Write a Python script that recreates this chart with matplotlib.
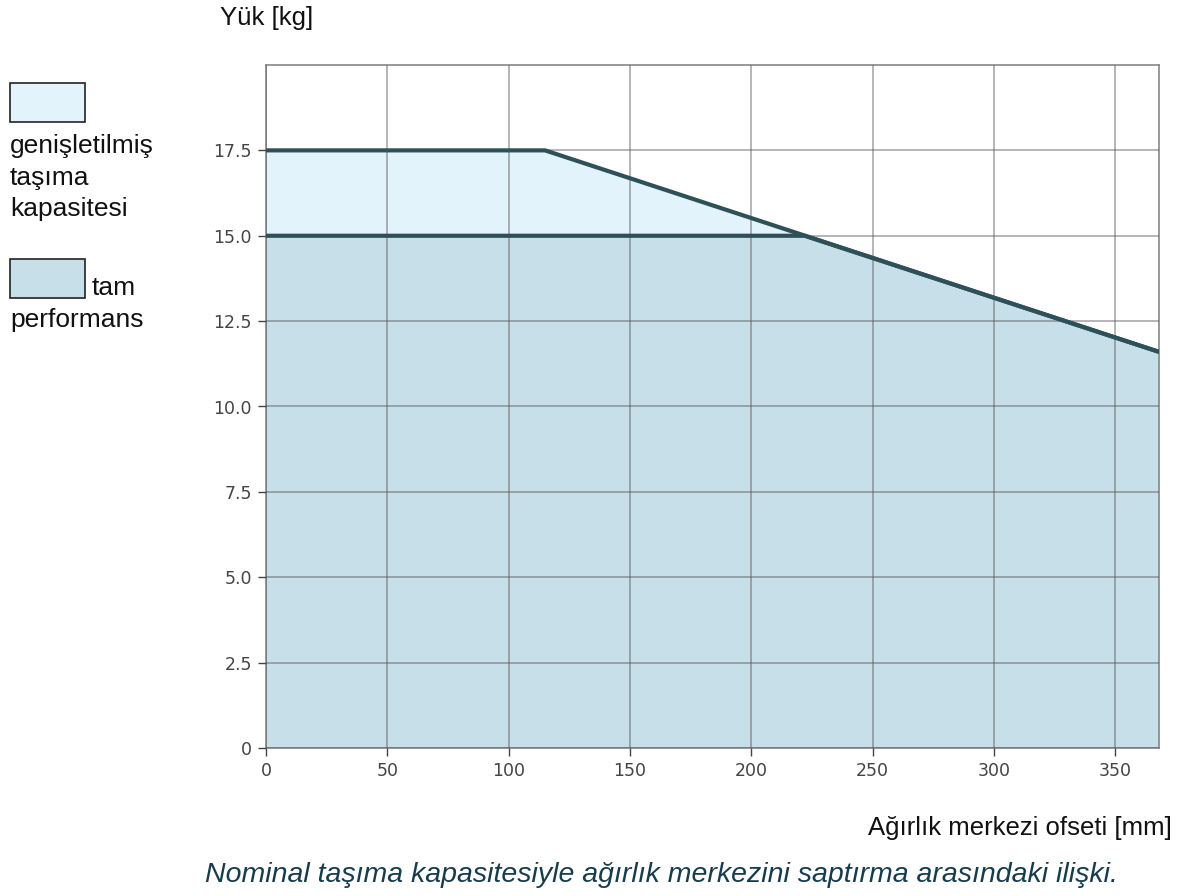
import matplotlib
matplotlib.use("Agg")
import matplotlib.pyplot as plt
from matplotlib.patches import Rectangle

# Data
ext_x = [0, 115, 368]
ext_y = [17.5, 17.5, 11.6]
full_x = [0, 222, 368]
full_y = [15.0, 15.0, 11.6]
x_ticks = [0, 50, 100, 150, 200, 250, 300, 350]
y_ticks = [0, 2.5, 5.0, 7.5, 10.0, 12.5, 15.0, 17.5]
y_tick_labels = ["0", "2.5", "5.0", "7.5", "10.0", "12.5", "15.0", "17.5"]

fill_ext = "#e3f3fb"
fill_full = "#c6dfe9"
line_col = "#2e5058"
txt_font = ["Liberation Sans", "DejaVu Sans"]

fig = plt.figure(figsize=(11.9, 8.96), dpi=100)
ax = fig.add_axes([266/1190, 1-748/896, (1159-266)/1190, (748-65)/896])

ax.fill_between(ext_x, 0, ext_y, color=fill_ext, lw=0, zorder=1)
ax.fill_between(full_x, 0, full_y, color=fill_full, lw=0, zorder=1.5)
ax.grid(True, color="#555555", alpha=0.55, lw=1.1, zorder=2)
ax.set_axisbelow(False)
ax.plot(ext_x, ext_y, color=line_col, lw=3, zorder=3, solid_capstyle="butt")
ax.plot(full_x, full_y, color=line_col, lw=3, zorder=3, solid_capstyle="butt")

ax.set_xlim(0, 368)
ax.set_ylim(0, 20)
ax.set_xticks(x_ticks)
ax.set_yticks(y_ticks)
ax.set_yticklabels(y_tick_labels)
for lab in ax.get_xticklabels() + ax.get_yticklabels():
    lab.set_family("DejaVu Sans")
ax.tick_params(axis="both", labelsize=12.5, colors="#444444", length=6, width=1, pad=4)
for s in ax.spines.values():
    s.set_color("#888888")
    s.set_linewidth(1.2)

fs = 18.5
lfs = 19
fig.text(220/1190, 1-18/896, "Yük [kg]", fontsize=fs, family=txt_font, color="#111111", va="center", ha="left")
fig.text(1172/1190, 1-828/896, "Ağırlık merkezi ofseti [mm]", fontsize=fs, family=txt_font,
         color="#111111", va="center", ha="right")
fig.text(661/1190, 1-875/896, "Nominal taşıma kapasitesiyle ağırlık merkezini saptırma arasındaki ilişki.",
         fontsize=20.5, family=txt_font, style="italic", color="#173d4d", va="center", ha="center")

# Legend
fig.patches.append(Rectangle((10/1190, 1-122/896), 75/1190, 39/896, transform=fig.transFigure,
                             facecolor=fill_ext, edgecolor="#222222", lw=1.2))
fig.text(10/1190, 1-146/896, "genişletilmiş", fontsize=lfs, family=txt_font, color="#111111", va="center")
fig.text(10/1190, 1-178/896, "taşıma", fontsize=lfs, family=txt_font, color="#111111", va="center")
fig.text(10/1190, 1-209/896, "kapasitesi", fontsize=lfs, family=txt_font, color="#111111", va="center")
fig.patches.append(Rectangle((10/1190, 1-298/896), 75/1190, 39/896, transform=fig.transFigure,
                             facecolor=fill_full, edgecolor="#222222", lw=1.2))
fig.text(92/1190, 1-288/896, "tam", fontsize=lfs, family=txt_font, color="#111111", va="center")
fig.text(10/1190, 1-320/896, "performans", fontsize=lfs, family=txt_font, color="#111111", va="center")

fig.savefig("out.png", dpi=100, facecolor="white")
